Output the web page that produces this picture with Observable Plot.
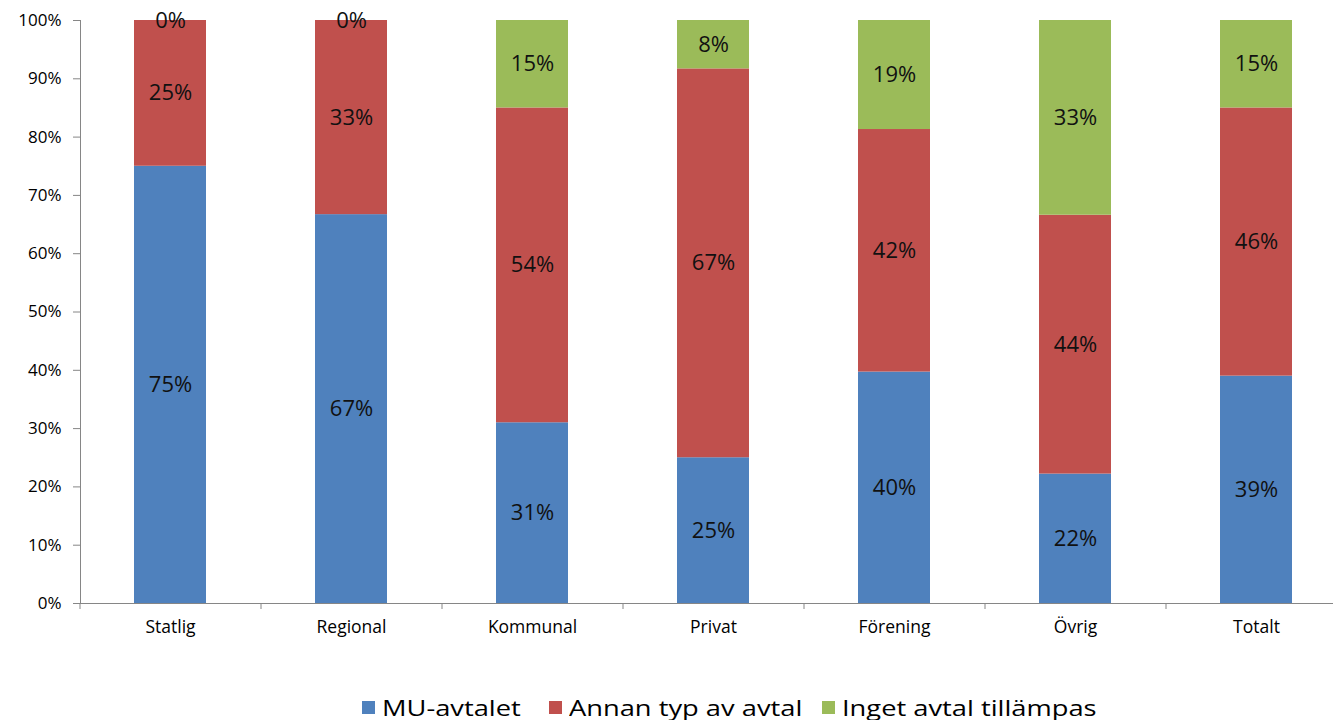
<!DOCTYPE html>
<html>
<head>
<meta charset="utf-8">
<script src="https://cdn.jsdelivr.net/npm/d3@7"></script>
<script src="https://cdn.jsdelivr.net/npm/@observablehq/plot@0.6"></script>
<style>
  html, body { margin: 0; padding: 0; background: #fff; }
  body { width: 1333px; height: 720px; position: relative; overflow: hidden; font-family: "Open Sans", sans-serif; }
  #chart svg { display: block; overflow: visible; }
  .legend { position: absolute; top: 694px; left: 0; height: 26px; }
  .item { position: absolute; top: 0; display: flex; align-items: center; height: 26px; }
  .sw { width: 13px; height: 13px; margin-right: 7px; }
  .lab { font-size: 22px; color: #000; display: inline-block; transform: scaleX(1.24); transform-origin: left center; white-space: nowrap; line-height: 26px; }
</style>
</head>
<body>
<div id="chart"></div>
<div class="legend" id="legend"></div>
<script>
const categories = ["Statlig", "Regional", "Kommunal", "Privat", "Förening", "Övrig", "Totalt"];
const seriesNames = ["MU-avtalet", "Annan typ av avtal", "Inget avtal tillämpas"];
const seriesColors = ["#4F81BD", "#C0504D", "#9BBB59"];
const muAvtalet = [75, 66.7, 31, 25, 39.7, 22.2, 39];
const annanTyp = [25, 33.3, 54, 66.7, 41.6, 44.4, 46];
const ingetAvtal = [0, 0, 15, 8.3, 18.7, 33.4, 15];
const yTicks = [0, 10, 20, 30, 40, 50, 60, 70, 80, 90, 100];

const seriesValues = [muAvtalet, annanTyp, ingetAvtal];
const data = [];
seriesNames.forEach((s, si) => {
  categories.forEach((c, ci) => {
    data.push({cat: c, series: s, value: seriesValues[si][ci]});
  });
});

const W = 1333, H = 660;
const xRange = [80, 1347];
const step = (xRange[1] - xRange[0]) / categories.length;
const axisGray = "#868686";

const chart = Plot.plot({
  width: W,
  height: H,
  marginTop: 20,
  marginBottom: 57,
  marginLeft: 80,
  marginRight: 0,
  style: {fontFamily: "'Open Sans', sans-serif", color: "#000", background: "#fff"},
  x: {domain: categories, range: xRange, paddingInner: 0.6, paddingOuter: 0.3, label: null},
  y: {domain: [0, 100], label: null},
  color: {domain: seriesNames, range: seriesColors},
  marks: [
    Plot.barY(data, {x: "cat", y: "value", fill: "series", order: null}),
    Plot.text(data, Plot.stackY({x: "cat", y: "value", z: "series", order: null,
      text: d => Math.round(d.value) + "%", fontSize: 22, fill: "#111"})),
    Plot.frame({anchor: "left", stroke: axisGray}),
    Plot.frame({anchor: "bottom", stroke: axisGray}),
    Plot.axisY({ticks: yTicks, tickFormat: d => d + "%", tickSize: 7, tickPadding: 12,
      fontSize: 17, stroke: axisGray, fill: "#000", label: null}),
    Plot.axisX({tickSize: 6, tickFormat: () => "", dx: -step / 2, stroke: axisGray, label: null}),
    Plot.axisX({tickSize: 0, tickPadding: 17, fontSize: 17.5, fill: "#000", label: null})
  ]
});
document.getElementById("chart").appendChild(chart);

const legendX = [362, 549, 822];
const legend = document.getElementById("legend");
seriesNames.forEach((s, i) => {
  const item = document.createElement("div");
  item.className = "item";
  item.style.left = legendX[i] + "px";
  const sw = document.createElement("span");
  sw.className = "sw";
  sw.style.background = seriesColors[i];
  const lab = document.createElement("span");
  lab.className = "lab";
  lab.textContent = s;
  item.appendChild(sw);
  item.appendChild(lab);
  legend.appendChild(item);
});
</script>
</body>
</html>
